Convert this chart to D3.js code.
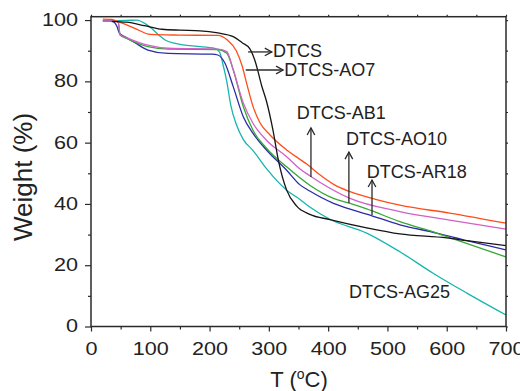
<!DOCTYPE html>
<html>
<head>
<meta charset="utf-8">
<script src="https://cdn.jsdelivr.net/npm/d3@7"></script>
<style>
body { margin: 0; background: #fff; }
svg { display: block; font-family: "Liberation Sans", Arial, sans-serif; }
</style>
</head>
<body>
<svg width="520" height="391"></svg>
<script>
// TGA curves, temperature (°C) vs weight (%)
var dtcsT = [35, 60, 90, 120, 150, 184, 214, 240, 255, 268, 277, 288, 296, 307, 316, 330, 347, 369, 403, 465, 521, 600, 634, 700];
var dtcsW = [99.6, 99.3, 98.2, 97.0, 96.7, 96.5, 95.8, 94.6, 92.6, 90.6, 86.5, 78.5, 73.5, 64, 54.3, 44.5, 39.3, 36.6, 34.9, 32.2, 30.2, 28.9, 28.0, 26.4];

var ao7T = [20, 35, 46, 74, 100, 150, 214, 230, 245, 255, 263, 273, 285, 302, 330, 364, 386, 410, 437, 480, 521, 605, 700];
var ao7W = [100.3, 100.2, 99.5, 97.3, 95.3, 95.1, 95.0, 93.5, 90, 85, 79, 72, 66.5, 62.5, 57.6, 53, 49.5, 46.3, 44, 41.5, 39.6, 37, 33.7];

var ab1T = [20, 40, 46, 49, 60, 96, 130, 214, 229, 240, 257, 273, 296, 330, 352, 369, 437, 521, 605, 700];
var ab1W = [99.7, 99.7, 99.3, 95.3, 94.3, 91.8, 90.8, 90.5, 89.7, 83.7, 72.9, 66.4, 60.8, 55.4, 51.5, 49.2, 41.8, 37.5, 34.7, 31.8];

var ao10T = [20, 40, 46, 49, 60, 96, 130, 214, 229, 240, 257, 273, 296, 330, 369, 409, 437, 465, 521, 583, 605, 700];
var ao10W = [99.7, 99.7, 99.3, 95.1, 94, 91.3, 90.5, 90.4, 89.2, 83.7, 71.7, 64.1, 58.2, 52.1, 46.1, 41.8, 40.2, 38.4, 34.2, 30.5, 29.0, 22.7];

var ar18T = [20, 37, 44, 48, 57, 75, 96, 130, 204, 214, 226, 240, 257, 273, 296, 330, 352, 369, 409, 437, 465, 521, 583, 634, 700];
var ar18W = [99.8, 99.5, 97.8, 95.7, 94.6, 92.5, 90.2, 89.1, 88.9, 88.6, 85.9, 78.2, 68.4, 63.1, 57.6, 51, 46.3, 44.2, 40.2, 38.3, 36.7, 33.2, 30.5, 28, 25];

var ag25T = [20, 60, 78, 90, 102, 115, 125, 142, 175, 209, 217, 222, 229, 236, 245, 257, 273, 296, 330, 352, 369, 403, 465, 521, 577, 634, 700];
var ag25W = [99.8, 99.9, 100, 99, 97.3, 95, 93.5, 92.4, 91.5, 90.8, 89.5, 86, 80, 72, 66, 61, 57.5, 51.5, 44.5, 41.5, 39, 35, 30.5, 24.4, 17.4, 10.9, 3.75];

var seriesNames = ["DTCS-AG25", "DTCS-AR18", "DTCS-AO10", "DTCS-AB1", "DTCS-AO7", "DTCS"];
var seriesColors = ["#17b5ad", "#2b2ba8", "#33a833", "#d35fc8", "#ff4d1a", "#151515"];

var xMajor = [0, 100, 200, 300, 400, 500, 600, 700];
var xMinor = [50, 150, 250, 350, 450, 550, 650];
var yMajor = [0, 20, 40, 60, 80, 100];
var yMinor = [10, 30, 50, 70, 90];

// annotation labels (data units) and arrows [T0, W0, T1, W1]
var labelText = ["DTCS", "DTCS-AO7", "DTCS-AB1", "DTCS-AO10", "DTCS-AR18", "DTCS-AG25"];
var labelT = [307, 326, 347, 430, 465, 435];
var labelW = [90.2, 84, 69.7, 61.5, 50.7, 11.3];
var arrows = [
    [265, 89.6, 305, 89.6],
    [261, 83.7, 324, 83.7],
    [371, 48.8, 371, 64.8],
    [435, 40.3, 435, 56.9],
    [474, 36.4, 474, 47.8]
];

var svg = d3.select("svg");
var x = d3.scaleLinear().domain([0, 700]).range([91, 506]);
var y = d3.scaleLinear().domain([0, 101.1]).range([326.5, 16.7]);

var ink = "#2a2a2a";

var seriesT = [ag25T, ar18T, ao10T, ab1T, ao7T, dtcsT];
var seriesW = [ag25W, ar18W, ao10W, ab1W, ao7W, dtcsW];

var line = d3.line()
    .x(function (d) { return x(d[0]); })
    .y(function (d) { return y(d[1]); })
    .curve(d3.curveMonotoneX);

seriesNames.forEach(function (name, i) {
    var pts = seriesT[i].map(function (t, j) { return [t, seriesW[i][j]]; });
    svg.append("path")
        .attr("d", line(pts))
        .attr("fill", "none")
        .attr("stroke", seriesColors[i])
        .attr("stroke-width", 1.3);
});

// frame
svg.append("rect")
    .attr("x", x(0)).attr("y", y.range()[1])
    .attr("width", x(700) - x(0)).attr("height", y(0) - y.range()[1])
    .attr("fill", "none").attr("stroke", ink).attr("stroke-width", 1.5);

function styleAxis(g) {
    g.select(".domain").remove();
    g.selectAll("line").attr("stroke", ink).attr("stroke-width", 1.2);
}

// bottom
svg.append("g").attr("transform", "translate(0," + y(0) + ")")
    .call(d3.axisBottom(x).tickValues(xMinor).tickSize(3).tickFormat(""))
    .call(styleAxis);
var gx = svg.append("g").attr("transform", "translate(0," + y(0) + ")")
    .call(d3.axisBottom(x).tickValues(xMajor).tickSize(5).tickFormat(d3.format("d")))
    .call(styleAxis);
gx.selectAll("text")
    .attr("y", 29).attr("dy", 0)
    .attr("transform", "scale(1.2,1)")
    .attr("fill", "#222").attr("font-size", 18).attr("font-family", null);

// left
svg.append("g").attr("transform", "translate(" + x(0) + ",0)")
    .call(d3.axisLeft(y).tickValues(yMinor).tickSize(3).tickFormat(""))
    .call(styleAxis);
var gy = svg.append("g").attr("transform", "translate(" + x(0) + ",0)")
    .call(d3.axisLeft(y).tickValues(yMajor).tickSize(6).tickFormat(d3.format("d")))
    .call(styleAxis);
gy.selectAll("text")
    .attr("x", 0).attr("dy", "0.3em")
    .attr("transform", "translate(-13,0) scale(1.2,1)")
    .attr("fill", "#222").attr("font-size", 18).attr("font-family", null);

// top and right mirror ticks
svg.append("g").attr("transform", "translate(0," + y.range()[1] + ")")
    .call(d3.axisTop(x).tickValues(xMajor.concat(xMinor)).tickSize(2).tickFormat(""))
    .call(styleAxis);
svg.append("g").attr("transform", "translate(" + x(700) + ",0)")
    .call(d3.axisRight(y).tickValues(yMajor.concat(yMinor)).tickSize(2).tickFormat(""))
    .call(styleAxis);

// axis titles
svg.append("text")
    .attr("transform", "translate(32," + 177 + ") rotate(-90)")
    .attr("text-anchor", "middle")
    .attr("font-size", 26).attr("fill", "#222")
    .text("Weight (%)");

var xt = svg.append("text")
    .attr("x", 299).attr("y", 387)
    .attr("text-anchor", "middle")
    .attr("font-size", 22).attr("fill", "#222");
xt.append("tspan").text("T (");
xt.append("tspan").attr("font-size", 14).attr("dy", -8).text("o");
xt.append("tspan").attr("dy", 8).text("C)");

// arrows
arrows.forEach(function (a) {
    var x0 = x(a[0]), y0 = y(a[1]), x1 = x(a[2]), y1 = y(a[3]);
    var ang = Math.atan2(y1 - y0, x1 - x0), len = 8, half = 0.5;
    svg.append("line")
        .attr("x1", x0).attr("y1", y0).attr("x2", x1).attr("y2", y1)
        .attr("stroke", ink).attr("stroke-width", 1.3);
    svg.append("path")
        .attr("d", "M" + (x1 - len * Math.cos(ang - half)) + "," + (y1 - len * Math.sin(ang - half)) +
            "L" + x1 + "," + y1 +
            "L" + (x1 - len * Math.cos(ang + half)) + "," + (y1 - len * Math.sin(ang + half)))
        .attr("fill", "none").attr("stroke", ink).attr("stroke-width", 1.3);
});

// curve labels
labelText.forEach(function (t, i) {
    svg.append("text")
        .attr("x", x(labelT[i]))
        .attr("y", y(labelW[i]) + 6.5)
        .attr("font-size", 18).attr("fill", "#222")
        .text(t);
});
</script>
</body>
</html>
